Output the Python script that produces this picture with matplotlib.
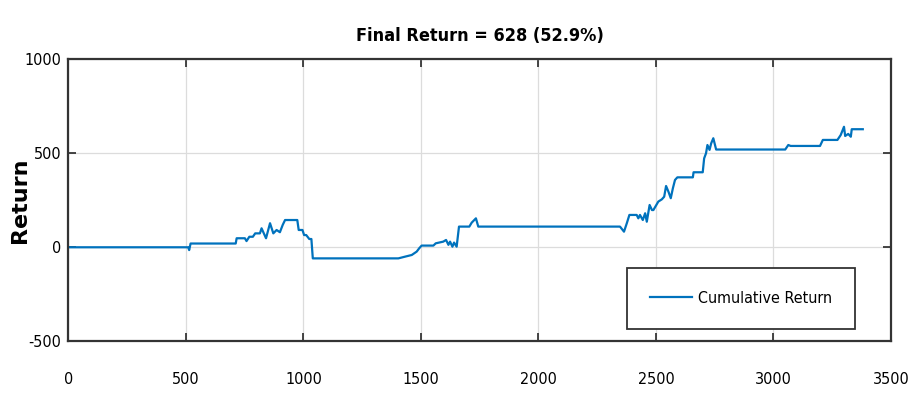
import matplotlib
matplotlib.use("Agg")
import matplotlib.pyplot as plt

# cumulative return path (trade index, return)
steps = [0, 510, 514, 520, 712, 716, 751, 758, 770, 785, 795, 815, 822, 841, 858,
         872, 886, 900, 912, 922, 974, 980, 996, 1003, 1012, 1025, 1034, 1040,
         1404, 1432, 1461, 1482, 1493, 1503, 1553, 1563, 1595, 1607, 1617, 1624,
         1634, 1641, 1652, 1662, 1706, 1716, 1734, 1744,
         2347, 2364, 2376, 2387, 2418, 2425, 2432, 2444, 2454, 2461, 2473,
         2483, 2489, 2510, 2525, 2535, 2543, 2553, 2563, 2572, 2581, 2591,
         2657, 2660, 2699, 2705, 2713, 2719, 2728, 2735, 2744, 2756,
         3050, 3063, 3073, 3198, 3210, 3272, 3286, 3300, 3305, 3318, 3329,
         3333, 3380]
returns = [0, 0, -15, 20, 20, 48, 48, 33, 56, 56, 74, 74, 101, 48, 128,
           74, 92, 80, 119, 145, 145, 92, 92, 65, 65, 44, 44, -59,
           -59, -50, -41, -23, -5, 9, 9, 21, 30, 39, 13, 30,
           3, 25, 3, 110, 110, 131, 154, 110,
           110, 83, 128, 172, 172, 154, 172, 145, 181, 136, 225,
           198, 198, 243, 255, 269, 326, 296, 261, 314, 358, 372,
           372, 399, 399, 473, 500, 544, 518, 553, 580, 520,
           520, 544, 539, 539, 571, 571, 597, 641, 592, 603, 588,
           628, 628]

x_ticks = [0, 500, 1000, 1500, 2000, 2500, 3000, 3500]
y_ticks = [-500, 0, 500, 1000]

plt.rcParams['font.family'] = ['DejaVu Sans']
plt.rcParams['font.stretch'] = 'condensed'
plt.rcParams['axes.unicode_minus'] = False

fig = plt.figure(figsize=(9.09, 4.0), dpi=100)
ax = fig.add_axes([0.0752, 0.1468, 0.905, 0.705])

ax.plot(steps, returns, color='#0072BD', linewidth=1.6, label='Cumulative Return')

ax.set_xlim(0, 3500)
ax.set_ylim(-500, 1000)
ax.set_xticks(x_ticks)
ax.set_yticks(y_ticks)
ax.tick_params(direction='in', top=True, right=True, length=6, width=1.2,
               color='#262626', labelsize=11.5)
ax.tick_params(axis='x', pad=22)
ax.tick_params(axis='y', pad=5)
ax.grid(True, color='#dcdcdc', linewidth=0.9)
for s in ax.spines.values():
    s.set_color('#333333')
    s.set_linewidth(1.6)

ax.set_title('Final Return = 628 (52.9%)', fontsize=13, fontweight='bold', pad=13)
ax.set_ylabel('Return', fontsize=16, fontweight='bold', fontstretch='normal')
ax.yaxis.set_label_coords(-0.047, 0.5)

leg = ax.legend(loc='lower right', bbox_to_anchor=(0.956, 0.044), borderaxespad=0,
                fontsize=11.5, fancybox=False, edgecolor='#333333', framealpha=1,
                handlelength=2.6, borderpad=1.45, handletextpad=0.35)
leg.get_frame().set_linewidth(1.3)

fig.savefig('out.png', dpi=100)
